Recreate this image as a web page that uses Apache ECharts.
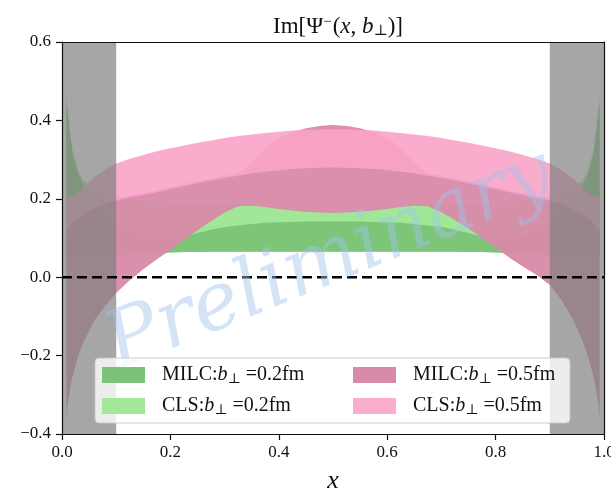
<!DOCTYPE html>
<html><head><meta charset="utf-8">
<script src="https://cdn.jsdelivr.net/npm/echarts@6/dist/echarts.min.js"></script>
<style>html,body{margin:0;padding:0;background:#fff}#c{width:611px;height:489px}</style>
</head><body><div id="c"></div>
<script>
// x sample positions (momentum fraction)
const xs = [0.008,0.01,0.015,0.02,0.03,0.04,0.06,0.08,0.1,0.125,0.15,0.175,0.2,0.225,0.25,0.275,0.3,0.325,0.35,0.375,0.4,0.425,0.45,0.475,0.5,
            0.525,0.55,0.575,0.6,0.625,0.65,0.675,0.7,0.725,0.75,0.775,0.8,0.825,0.85,0.875,0.9,0.92,0.94,0.96,0.97,0.98,0.985,0.99,0.992];

// CLS b=0.2fm band
const cls02Upper = [0.46,0.44,0.37,0.32,0.27,0.245,0.23,0.215,0.205,0.198,0.194,0.191,0.19,0.189,0.188,0.187,0.186,0.186,0.185,0.182,0.177,0.173,0.17,0.168,0.167,
                    0.168,0.17,0.173,0.177,0.182,0.185,0.186,0.186,0.187,0.188,0.189,0.19,0.191,0.194,0.198,0.205,0.215,0.23,0.245,0.27,0.32,0.37,0.44,0.46];
const cls02Lower = [0.05,0.05,0.05,0.05,0.05,0.05,0.052,0.054,0.056,0.058,0.06,0.062,0.063,0.064,0.064,0.065,0.065,0.065,0.065,0.065,0.065,0.065,0.065,0.065,0.065,
                    0.065,0.065,0.065,0.065,0.065,0.065,0.065,0.065,0.065,0.064,0.064,0.063,0.062,0.06,0.058,0.056,0.054,0.052,0.05,0.05,0.05,0.05,0.05,0.05];
// MILC b=0.2fm band
const milc02Upper = [0.44,0.42,0.36,0.31,0.26,0.23,0.19,0.16,0.14,0.12,0.105,0.098,0.097,0.104,0.113,0.121,0.128,0.132,0.136,0.139,0.14,0.141,0.142,0.142,0.142,
                     0.142,0.142,0.141,0.14,0.139,0.136,0.132,0.128,0.121,0.113,0.104,0.097,0.098,0.105,0.12,0.14,0.16,0.19,0.23,0.26,0.31,0.36,0.42,0.44];
const milc02Lower = [0.05,0.05,0.05,0.05,0.05,0.05,0.052,0.054,0.056,0.058,0.06,0.062,0.063,0.064,0.064,0.065,0.065,0.065,0.065,0.065,0.065,0.065,0.065,0.065,0.065,
                     0.065,0.065,0.065,0.065,0.065,0.065,0.065,0.065,0.065,0.064,0.064,0.063,0.062,0.06,0.058,0.056,0.054,0.052,0.05,0.05,0.05,0.05,0.05,0.05];
// MILC b=0.5fm band
const milc05Upper = [0.12,0.13,0.14,0.15,0.16,0.17,0.18,0.19,0.2,0.208,0.215,0.222,0.23,0.237,0.245,0.252,0.258,0.265,0.29,0.33,0.355,0.37,0.38,0.386,0.388,
                     0.386,0.38,0.37,0.355,0.33,0.29,0.265,0.258,0.252,0.245,0.237,0.23,0.222,0.215,0.208,0.2,0.19,0.18,0.17,0.16,0.15,0.14,0.13,0.12];
const milc05Lower = [-0.36,-0.33,-0.285,-0.25,-0.2,-0.165,-0.11,-0.072,-0.04,-0.008,0.02,0.046,0.069,0.095,0.12,0.143,0.165,0.181,0.182,0.179,0.174,0.17,0.167,0.165,0.164,
                     0.165,0.167,0.17,0.174,0.179,0.182,0.181,0.166,0.146,0.124,0.1,0.075,0.05,0.027,0.006,-0.02,-0.055,-0.1,-0.16,-0.2,-0.25,-0.285,-0.33,-0.36];
// CLS b=0.5fm band
const cls05Upper = [0.2,0.202,0.205,0.207,0.215,0.23,0.255,0.275,0.29,0.302,0.312,0.321,0.329,0.336,0.343,0.349,0.355,0.36,0.364,0.368,0.371,0.374,0.376,0.377,0.377,
                    0.377,0.376,0.374,0.371,0.368,0.364,0.36,0.355,0.349,0.343,0.336,0.329,0.321,0.312,0.302,0.29,0.275,0.255,0.23,0.215,0.207,0.205,0.202,0.2];
const cls05Lower = [0.11,0.12,0.13,0.14,0.15,0.16,0.175,0.187,0.195,0.203,0.21,0.217,0.225,0.232,0.24,0.247,0.253,0.259,0.265,0.269,0.273,0.276,0.278,0.279,0.28,
                    0.279,0.278,0.276,0.273,0.269,0.265,0.259,0.253,0.247,0.24,0.232,0.225,0.217,0.21,0.203,0.195,0.187,0.175,0.16,0.15,0.14,0.13,0.12,0.11];

const xTickLabels = ['0.0','0.2','0.4','0.6','0.8','1.0'];
const yTickLabels = ['−0.4','−0.2','0.0','0.2','0.4','0.6'];
const excluded = [[0, 0.1], [0.9, 1.0]];
const zeroLine = [[0, 0], [1, 0]];

const names = {
  m2: 'MILC:b⊥ =0.2fm', c2: 'CLS:b⊥ =0.2fm', m5: 'MILC:b⊥ =0.5fm', c5: 'CLS:b⊥ =0.5fm'
};
const SERIF = '"Liberation Serif", "DejaVu Serif", serif';

function band(name, up, lo, color, opacity, z) {
  return {
    type: 'custom', name: name, z: z, coordinateSystem: 'cartesian2d', silent: true, clip: true,
    data: [[xs[0], lo[0]]],
    itemStyle: { color: color },
    renderItem: function (params, api) {
      const pts = [];
      for (let i = 0; i < xs.length; i++) pts.push(api.coord([xs[i], up[i]]));
      for (let i = xs.length - 1; i >= 0; i--) pts.push(api.coord([xs[i], lo[i]]));
      return { type: 'polygon', shape: { points: pts }, style: { fill: color, opacity: opacity } };
    }
  };
}

const chart = echarts.init(document.getElementById('c'));
const legendRich = {
  n: { fontFamily: SERIF, fontSize: 20, color: '#111', lineHeight: 20 },
  i: { fontFamily: SERIF, fontSize: 20, fontStyle: 'italic', color: '#111', lineHeight: 20 },
  s: { fontFamily: SERIF, fontSize: 14, color: '#111', lineHeight: 20, padding: [8, 0, 0, 0] }
};
function legendFmt(name) {
  const parts = name.split('b⊥');
  return '{n|' + parts[0] + '}{i|b}{s|⊥}{n|' + parts[1] + '}';
}

chart.setOption({
  animation: false,
  backgroundColor: '#fff',
  title: {
    text: '{n|Im[Ψ}{sup|−}{n|(}{i|x}{n|, }{i|b}{sub|⊥}{n|)]}',
    left: 333, top: 8, textAlign: 'center',
    textStyle: {
      fontWeight: 'normal',
      rich: {
        n: { fontFamily: SERIF, fontSize: 23, fontWeight: 'normal', color: '#111', lineHeight: 28 },
        i: { fontFamily: SERIF, fontSize: 23, fontWeight: 'normal', fontStyle: 'italic', color: '#111', lineHeight: 28 },
        sup: { fontFamily: SERIF, fontSize: 15, fontWeight: 'normal', color: '#111', lineHeight: 28, padding: [0, 1, 10, 0] },
        sub: { fontFamily: SERIF, fontSize: 15, fontWeight: 'normal', color: '#111', lineHeight: 28, padding: [9, 0, 0, 0] }
      }
    }
  },
  grid: { left: 62, right: 7, top: 42, bottom: 55, show: false, outerBoundsMode: 'none', containLabel: false },
  xAxis: [{
    type: 'value', min: 0, max: 1, interval: 0.2, z: 10,
    axisLine: { show: true, onZero: false, lineStyle: { color: '#111', width: 1.2 } },
    axisTick: { show: true, length: 6, lineStyle: { color: '#111', width: 1.2 } },
    axisLabel: { margin: 10, fontFamily: SERIF, fontSize: 17, color: '#111', hideOverlap: false,
      formatter: function (v) { return xTickLabels[Math.round(v / 0.2)]; } },
    splitLine: { show: false },
    name: 'x', nameLocation: 'middle', nameGap: 34,
    nameTextStyle: { fontFamily: SERIF, fontSize: 26, fontStyle: 'italic', color: '#111' }
  }, {
    type: 'value', min: 0, max: 1, position: 'top', z: 10,
    axisLine: { show: true, onZero: false, lineStyle: { color: '#111', width: 1.2 } },
    axisTick: { show: false }, axisLabel: { show: false }, splitLine: { show: false }
  }],
  yAxis: [{
    type: 'value', min: -0.4, max: 0.6, interval: 0.2, z: 10,
    axisLine: { show: true, onZero: false, lineStyle: { color: '#111', width: 1.2 } },
    axisTick: { show: true, length: 6, lineStyle: { color: '#111', width: 1.2 } },
    axisLabel: { margin: 11, fontFamily: SERIF, fontSize: 17, color: '#111',
      formatter: function (v) { return yTickLabels[Math.round((v + 0.4) / 0.2)]; } },
    splitLine: { show: false }
  }, {
    type: 'value', min: -0.4, max: 0.6, position: 'right', z: 10,
    axisLine: { show: true, onZero: false, lineStyle: { color: '#111', width: 1.2 } },
    axisTick: { show: false }, axisLabel: { show: false }, splitLine: { show: false }
  }],
  legend: [{
    data: [{ name: names.m2, itemStyle: { color: '#7cc37a' } }, { name: names.c2, itemStyle: { color: '#a3e89a' } }],
    orient: 'vertical', left: 102, top: 364, padding: 0, itemWidth: 43, itemHeight: 16, itemGap: 9,
    icon: 'rect', selectedMode: false, z: 21,
    formatter: legendFmt, textStyle: { padding: [0, 0, 0, 12], rich: legendRich }
  }, {
    data: [{ name: names.m5, itemStyle: { color: '#d88aa8' } }, { name: names.c5, itemStyle: { color: '#fbadcc' } }],
    orient: 'vertical', left: 353, top: 364, padding: 0, itemWidth: 43, itemHeight: 16, itemGap: 9,
    icon: 'rect', selectedMode: false, z: 21,
    formatter: legendFmt, textStyle: { padding: [0, 0, 0, 12], rich: legendRich }
  }],
  graphic: [{
    type: 'rect', z: 20, silent: true,
    shape: { x: 95, y: 358, width: 475, height: 65, r: 4 },
    style: { fill: 'rgba(255,255,255,0.8)', stroke: 'rgba(200,200,200,0.9)', lineWidth: 1 }
  }, {
    type: 'text', z: 15, silent: true,
    x: 330, y: 262, rotation: 22 * Math.PI / 180,
    style: { text: 'Preliminary', font: 'italic 80px "DejaVu Serif", serif',
      fill: 'rgba(160,195,235,0.45)', align: 'center', verticalAlign: 'middle' }
  }],
  series: [
    band(names.c2, cls02Upper, cls02Lower, '#a0e897', 1, 2),
    band(names.m2, milc02Upper, milc02Lower, '#78c175', 0.9, 3),
    band(names.m5, milc05Upper, milc05Lower, '#d88aa8', 0.95, 4),
    band(names.c5, cls05Upper, cls05Lower, '#f9a3c7', 0.9, 5),
    {
      type: 'custom', name: 'excluded', z: 6, silent: true, coordinateSystem: 'cartesian2d',
      data: excluded,
      renderItem: function (params, api) {
        const p0 = api.coord([api.value(0), 0.6]);
        const p1 = api.coord([api.value(1), -0.4]);
        return { type: 'rect', shape: { x: p0[0], y: p0[1], width: p1[0] - p0[0], height: p1[1] - p0[1] },
          style: { fill: 'rgba(128,128,128,0.7)' } };
      }
    },
    {
      type: 'line', name: 'zero', data: zeroLine, z: 7, silent: true, symbol: 'none',
      lineStyle: { color: '#000', width: 2.4, type: [10, 5] }
    }
  ]
});
</script></body></html>
